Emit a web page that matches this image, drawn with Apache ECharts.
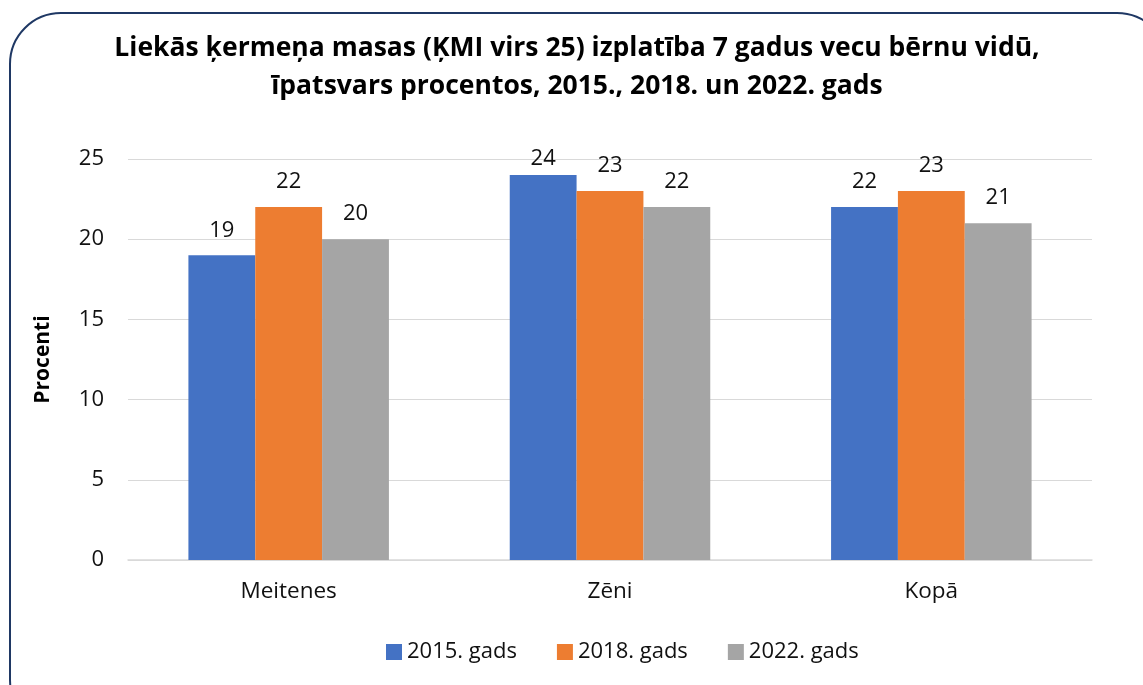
<!DOCTYPE html>
<html>
<head>
<meta charset="utf-8">
<script src="https://cdn.jsdelivr.net/npm/echarts@6/dist/echarts.min.js"></script>
<style>
  html, body { margin: 0; padding: 0; background: #fff; overflow: hidden; }
  #frame {
    position: absolute; left: 9px; top: 12px; width: 1160px; height: 720px;
    border: 2px solid #1f3864; border-radius: 52px; box-sizing: border-box;
  }
  #chart { position: absolute; left: 0; top: 0; width: 1143px; height: 685px; }
</style>
</head>
<body>
<div id="frame"></div>
<div id="chart"></div>
<script>
  const categories = ['Meitenes', 'Zēni', 'Kopā']
  const years = ['2015. gads', '2018. gads', '2022. gads']
  const values2015 = [19, 24, 22]
  const values2018 = [22, 23, 23]
  const values2022 = [20, 22, 21]
  const colors = ['#4472C4', '#ED7D31', '#A5A5A5']

  const font = '"Open Sans", "Noto Sans", sans-serif'

  const makeSeries = (name, data, color) => {
    return {
      name,
      type: 'bar',
      data,
      barGap: '0%',
      barCategoryGap: '37.6%',
      itemStyle: { color },
      label: {
        show: true,
        position: 'top',
        distance: 14,
        color: '#111',
        fontSize: 22,
        fontFamily: font
      }
    }
  }

  const series = [
    makeSeries(years[0], values2015, colors[0]),
    makeSeries(years[1], values2018, colors[1]),
    makeSeries(years[2], values2022, colors[2])
  ]
  // the top label of 2015 / Zēni sits closer to its bar (kept inside the plot)
  series[0].data = values2015.map((v, i) => i === 1 ? { value: v, label: { distance: 5 } } : v)

  const chart = echarts.init(document.getElementById('chart'))
  chart.setOption({
    animation: false,
    title: {
      text: 'Liekās ķermeņa masas (ĶMI virs 25) izplatība 7 gadus vecu bērnu vidū,\nīpatsvars procentos, 2015., 2018. un 2022. gads',
      left: 572,
      textAlign: 'center',
      top: 24,
      textStyle: {
        fontFamily: font,
        fontWeight: 'bold',
        fontSize: 26.5,
        lineHeight: 38,
        color: '#000'
      }
    },
    legend: {
      data: years,
      bottom: 17,
      left: 381,
      itemWidth: 16,
      itemHeight: 16,
      itemGap: 40,
      icon: 'rect',
      textStyle: { fontFamily: font, fontSize: 22, color: '#111' }
    },
    grid: {
      left: 128,
      right: 51,
      top: 159,
      bottom: 125
    },
    xAxis: {
      type: 'category',
      data: categories,
      axisLine: { lineStyle: { color: '#d9d9d9', width: 1.5 } },
      axisTick: { show: false },
      axisLabel: { fontFamily: font, fontSize: 22.5, color: '#111', margin: 20 }
    },
    yAxis: {
      type: 'value',
      min: 0,
      max: 25,
      interval: 5,
      name: 'Procenti',
      nameLocation: 'middle',
      nameGap: 74,
      nameTextStyle: { fontFamily: font, fontSize: 21, fontWeight: 'bold', color: '#000' },
      axisLabel: { fontFamily: font, fontSize: 22, color: '#111', margin: 24 },
      splitLine: { lineStyle: { color: '#d9d9d9', width: 1 } }
    },
    series
  })
</script>
</body>
</html>
